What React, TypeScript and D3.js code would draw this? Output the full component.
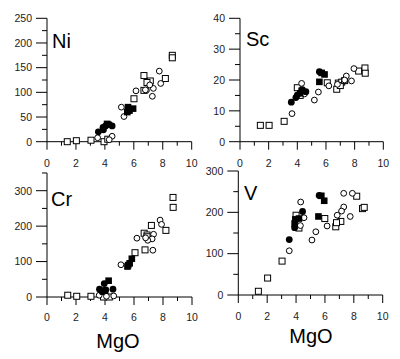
import React from "react";
import * as d3 from "d3";

type Pt = [number, number];

// ---------- Data (MgO, element) ----------
const niOpenSq: Pt[] = [[1.4, 0], [2.03, 2], [3.04, 3], [3.94, 0], [4.2, 5], [6.01, 87], [6.7, 134], [7.14, 123], [6.91, 120], [8.18, 128], [8.66, 175], [8.66, 170], [6.7, 104]];
const niOpenCirc: Pt[] = [[3.5, 8], [4.5, 11], [4.3, 4], [5.14, 70], [5.32, 51], [6.15, 103], [7.76, 143], [7.86, 118], [7.35, 108], [7.28, 92], [6.87, 104], [6.8, 105], [7.1, 115]];
const niFilledCirc: Pt[] = [[3.55, 20], [3.87, 29], [4.05, 32], [4.5, 32], [3.9, 24], [4.3, 35]];
const niFilledSq: Pt[] = [[4.15, 36], [5.6, 70], [5.95, 67], [5.7, 63], [5.55, 60]];

const scOpenSq: Pt[] = [[1.42, 5.3], [2.03, 5.3], [3.08, 6.6], [4.0, 17.5], [6.09, 19.1], [6.75, 17], [6.86, 19], [7.1, 19.3], [8.28, 22.9], [8.72, 23.9], [8.74, 22.2], [7.0, 18.2], [7.3, 19.8], [4.2, 15]];
const scOpenCirc: Pt[] = [[3.63, 9.1], [4.3, 18.9], [5.19, 13.5], [5.47, 16.1], [6.2, 18.1], [7.42, 21.3], [7.78, 19.7], [7.95, 23.7], [7.3, 20], [6.8, 18.6], [4.5, 15.5]];
const scFilledCirc: Pt[] = [[3.58, 12.8], [3.9, 14.3], [4.0, 15.1], [4.6, 16.2], [4.35, 16.9], [5.54, 22.7]];
const scFilledSq: Pt[] = [[5.54, 19.4], [5.9, 21.8], [5.7, 22.3], [4.2, 15.7], [4.3, 16.5]];

const crOpenSq: Pt[] = [[1.43, 5], [2.05, 2], [3.03, 2], [3.9, 0], [4.3, 0], [6.07, 125], [6.76, 133], [6.7, 180], [6.9, 175], [7.2, 202], [8.2, 188], [8.69, 281], [8.7, 253], [6.9, 170]];
const crOpenCirc: Pt[] = [[3.6, 5], [4.6, 3], [5.1, 91], [6.2, 166], [7.3, 132], [7.8, 217], [7.9, 205], [7.35, 177], [7.25, 164], [6.95, 160], [6.8, 167], [4.1, 2]];
const crFilledCirc: Pt[] = [[3.62, 22], [3.95, 38], [4.55, 22], [4.05, 20], [3.8, 15]];
const crFilledSq: Pt[] = [[4.25, 46], [4.0, 18], [5.55, 86], [5.7, 95], [5.85, 108], [5.6, 90]];

const vOpenSq: Pt[] = [[1.39, 9], [2.03, 41], [3.03, 82], [4.0, 193], [4.2, 162], [5.99, 185], [6.75, 165], [7.1, 178], [8.2, 239], [8.6, 209], [8.72, 212], [6.8, 175]];
const vOpenCirc: Pt[] = [[3.53, 107], [4.32, 225], [4.55, 187], [5.1, 133], [5.37, 153], [6.15, 167], [7.3, 246], [7.9, 246], [7.75, 190], [7.3, 213], [7.15, 203], [6.85, 193], [4.3, 168]];
const vFilledCirc: Pt[] = [[3.53, 134], [3.9, 163], [4.45, 202], [5.6, 241]];
const vFilledSq: Pt[] = [[3.9, 173], [4.2, 185], [5.55, 190], [5.75, 240], [5.95, 228], [3.95, 183]];

const xTicks = d3.range(0, 11, 1);
const xLabels = [0, 2, 4, 6, 8, 10];

interface PanelProps {
  label: string;
  labelPos: [number, number];
  x0: number; x1: number;
  y0: number; yTopPx: number; yTopVal: number;
  yMax: number; yMinorStep: number; yMajorStep: number;
  xLabelY: number;
  openSq: Pt[]; openCirc: Pt[]; filledCirc: Pt[]; filledSq: Pt[];
}

function Panel(p: PanelProps) {
  const x = d3.scaleLinear().domain([0, 10]).range([p.x0, p.x1]);
  const y = d3.scaleLinear().domain([0, p.yTopVal]).range([p.y0, p.yTopPx]);
  const yTicks = d3.range(0, p.yMax + 0.001, p.yMinorStep);
  const font = "'Liberation Sans', Arial, sans-serif";
  const sq = 6;
  return (
    <g>
      {/* axes */}
      <line x1={x(0)} x2={x(10)} y1={y(0)} y2={y(0)} stroke="#000" strokeWidth={1} />
      <line x1={x(0)} x2={x(0)} y1={y(0)} y2={y(p.yMax)} stroke="#000" strokeWidth={1} />
      {xTicks.map((t) => (
        <line key={"xt" + t} x1={x(t)} x2={x(t)} y1={y(0)} y2={y(0) + (t % 2 === 0 ? 8 : 4)} stroke="#000" strokeWidth={1} />
      ))}
      {xLabels.map((t) => (
        <text key={"xl" + t} x={x(t)} y={p.xLabelY} fontSize={10.5} fontFamily={font} textAnchor="middle" fill="#222">{t}</text>
      ))}
      {yTicks.map((t) => {
        const major = Math.abs(t / p.yMajorStep - Math.round(t / p.yMajorStep)) < 1e-6;
        return (
          <g key={"yt" + t}>
            <line x1={x(0) - (major ? 11 : 5)} x2={x(0)} y1={y(t)} y2={y(t)} stroke="#000" strokeWidth={1} />
            {major && (
              <text x={x(0) - 15} y={y(t) + 3.8} fontSize={10.5} fontFamily={font} textAnchor="end" fill="#222">{t}</text>
            )}
          </g>
        );
      })}
      <text x={p.labelPos[0]} y={p.labelPos[1]} fontSize={20} fontFamily={font} fill="#000">{p.label}</text>
      {/* markers */}
      {p.openSq.map((d, i) => (
        <rect key={"os" + i} x={x(d[0]) - sq / 2} y={y(d[1]) - sq / 2} width={sq} height={sq} fill="#fff" stroke="#000" strokeWidth={1} />
      ))}
      {p.openCirc.map((d, i) => (
        <circle key={"oc" + i} cx={x(d[0])} cy={y(d[1])} r={2.9} fill="#fff" stroke="#000" strokeWidth={1} />
      ))}
      {p.filledCirc.map((d, i) => (
        <circle key={"fc" + i} cx={x(d[0])} cy={y(d[1])} r={3.4} fill="#000" />
      ))}
      {p.filledSq.map((d, i) => (
        <rect key={"fs" + i} x={x(d[0]) - 3.3} y={y(d[1]) - 3.3} width={6.6} height={6.6} fill="#000" />
      ))}
    </g>
  );
}

export default function App() {
  const font = "'Liberation Sans', Arial, sans-serif";
  return (
    <svg width={400} height={359} style={{ position: "absolute", left: 0, top: 0, background: "#fff" }}>
      <rect width={400} height={359} fill="#fff" />
      <Panel label="Ni" labelPos={[52, 48]} x0={47} x1={191.7} y0={141.7} yTopPx={18.3} yTopVal={250}
        yMax={250} yMinorStep={25} yMajorStep={50} xLabelY={167}
        openSq={niOpenSq} openCirc={niOpenCirc} filledCirc={niFilledCirc} filledSq={niFilledSq} />
      <Panel label="Sc" labelPos={[246, 46]} x0={240} x1={383.3} y0={141.7} yTopPx={18.3} yTopVal={40}
        yMax={40} yMinorStep={5} yMajorStep={10} xLabelY={167}
        openSq={scOpenSq} openCirc={scOpenCirc} filledCirc={scFilledCirc} filledSq={scFilledSq} />
      <Panel label="Cr" labelPos={[51, 206]} x0={47} x1={192} y0={297} yTopPx={190.7} yTopVal={300}
        yMax={350} yMinorStep={50} yMajorStep={100} xLabelY={321}
        openSq={crOpenSq} openCirc={crOpenCirc} filledCirc={crFilledCirc} filledSq={crFilledSq} />
      <Panel label="V" labelPos={[244, 200]} x0={238.3} x1={382.7} y0={295} yTopPx={171} yTopVal={300}
        yMax={300} yMinorStep={50} yMajorStep={100} xLabelY={319.5}
        openSq={vOpenSq} openCirc={vOpenCirc} filledCirc={vFilledCirc} filledSq={vFilledSq} />
      <text x={118} y={348} fontSize={20} fontFamily={font} textAnchor="middle" fill="#000">MgO</text>
      <text x={311} y={343} fontSize={20} fontFamily={font} textAnchor="middle" fill="#000">MgO</text>
    </svg>
  );
}
